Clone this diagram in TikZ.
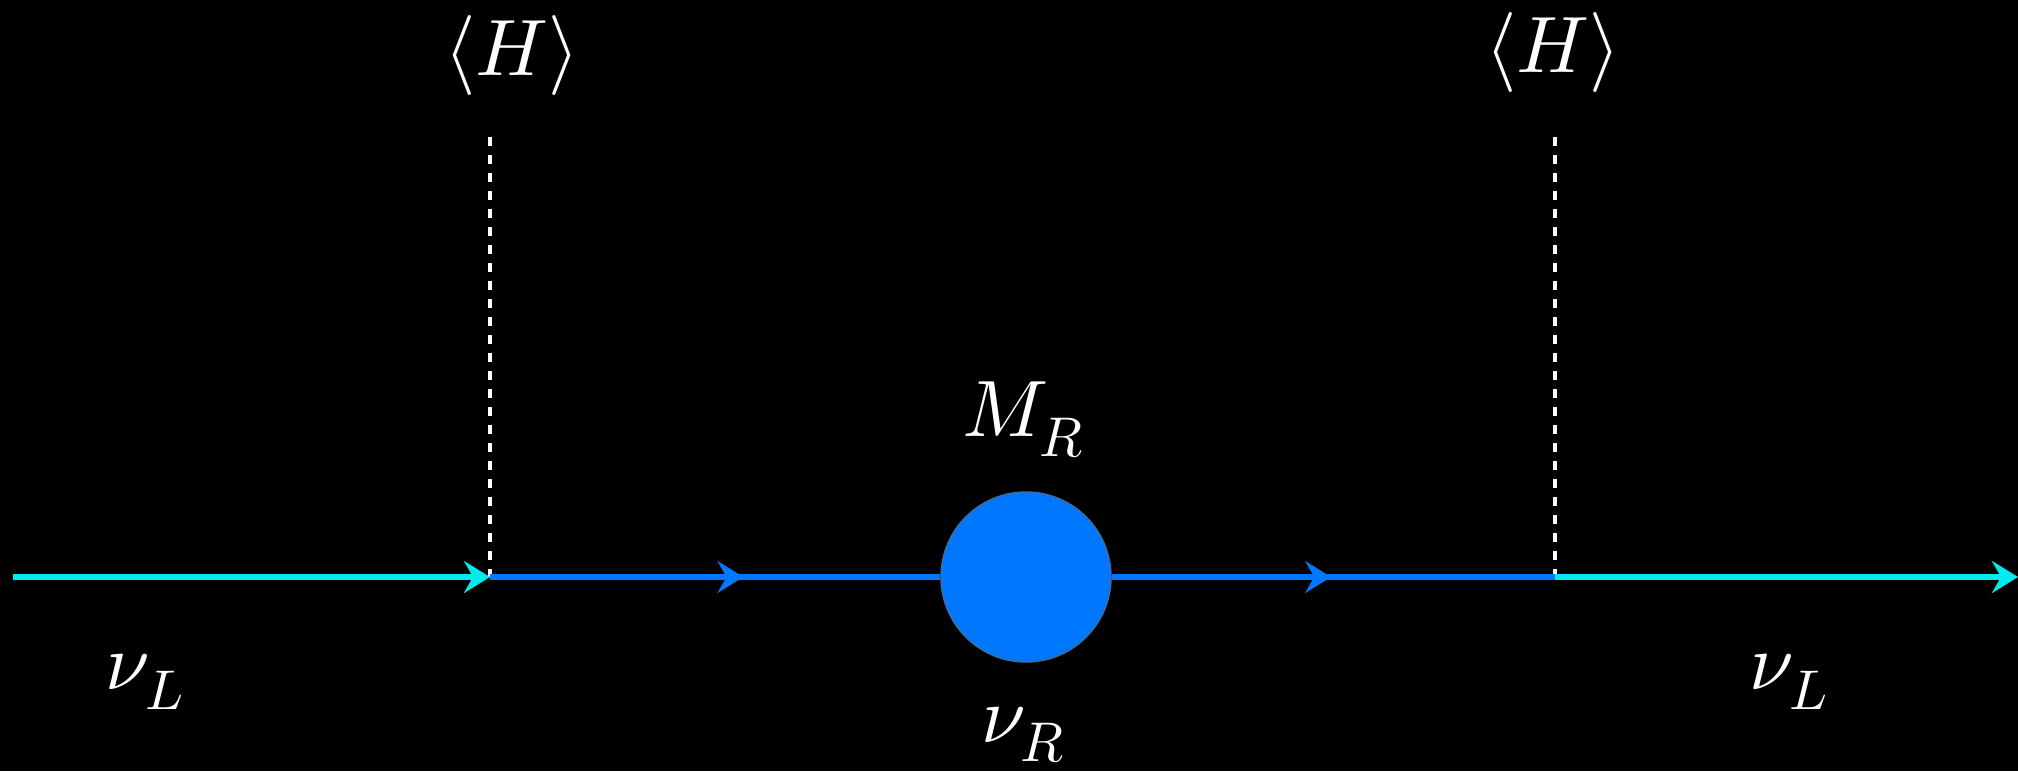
\documentclass[tikz,border=0pt]{standalone}
\usepackage{unicode-math}
\setmathfont{Latin Modern Math}
\usetikzlibrary{arrows.meta,decorations.markings}
\definecolor{cyanline}{RGB}{0,235,240}
\definecolor{blueline}{RGB}{0,119,255}
\definecolor{rimcol}{RGB}{60,110,165}
\tikzset{
  tip/.style={-{Stealth[length=26pt,width=32pt,inset=9pt]}},
  lbl/.style={text=white,inner sep=0pt,font=\fontsize{80}{92}\selectfont},
  vev/.style={white,line width=3.5pt,dash pattern=on 9pt off 9pt},
  prop/.style={line width=6.5pt},
  midarrow/.style={postaction={decorate,decoration={markings,
      mark=at position #1 with {\arrow[blueline]{Stealth[length=26pt,width=32pt,inset=9pt]}}}}}
}
\begin{document}
\begin{tikzpicture}[x=1pt,y=-1pt]
\fill[black] (0,0) rectangle (2018,771);
\useasboundingbox (0,0) rectangle (2018,771);
\coordinate (a) at (13,577);
\coordinate (v1) at (490,577);
\coordinate (v2) at (1555,577);
\coordinate (b) at (2018,577);
\coordinate (h1) at (490,137);
\coordinate (h2) at (1555,137);
\node[circle,fill=blueline,draw=rimcol,line width=1.5pt,minimum size=170pt,inner sep=0pt] (c) at (1026,577) {};
\draw[vev] (h1) -- (v1);
\draw[vev] (h2) -- (v2);
\draw[prop,blueline,midarrow=0.563] (v1) -- (c.west);
\draw[prop,blueline,midarrow=0.495] (c.east) -- (v2);
\draw[prop,cyanline,tip] (a) -- (v1);
\draw[prop,cyanline,tip] (v2) -- (b);
\node[lbl] (H1) at (512,55) {$\langle H\rangle$};
\node[lbl] (H2) at (1553,52) {$\langle H\rangle$};
\node[lbl] (MR) at (1023,420) {$M_R$};
\node[lbl] (nuR) at (1023,735) {$\nu_R$};
\node[lbl] (nuL1) at (145,682) {$\nu_L$};
\node[lbl] (nuL2) at (1789,682) {$\nu_L$};
\end{tikzpicture}
\end{document}
